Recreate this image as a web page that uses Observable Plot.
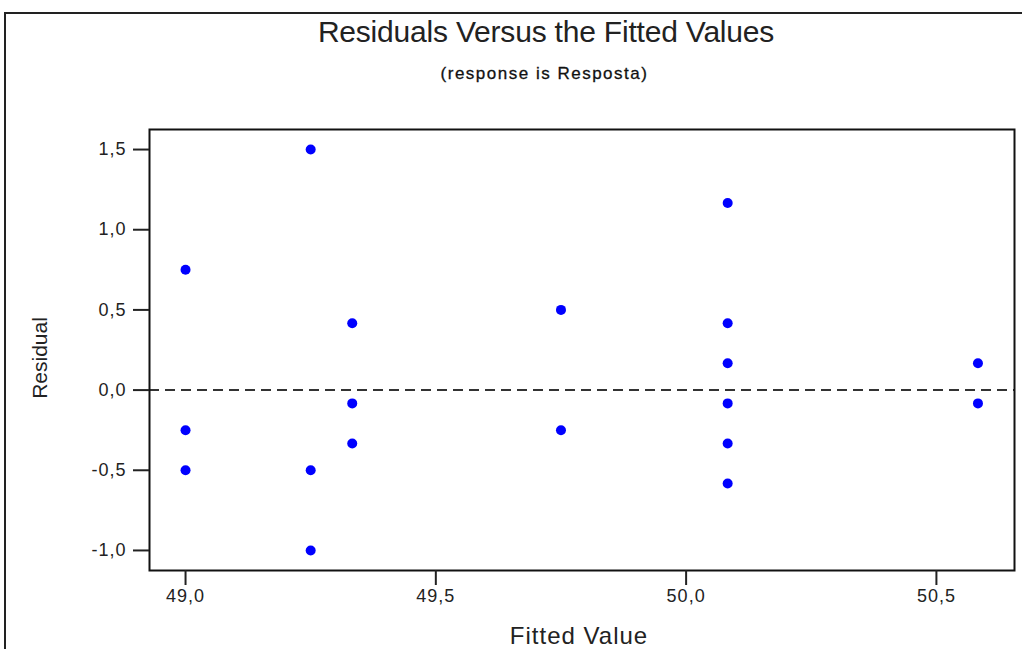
<!DOCTYPE html>
<html><head><meta charset="utf-8">
<script src="https://cdn.jsdelivr.net/npm/d3@7"></script>
<script src="https://cdn.jsdelivr.net/npm/@observablehq/plot@0.6"></script>
<style>
body{margin:0;background:#fff;overflow:hidden;font-family:"Liberation Sans",Arial,sans-serif;}
#wrap{position:relative;width:1022px;height:649px;overflow:hidden;}
#border{position:absolute;left:4px;top:12px;width:1100px;height:700px;border:2px solid #222;box-sizing:border-box;pointer-events:none;}
#head{position:relative;height:100px;}
#title{position:absolute;top:14px;left:0;width:1092px;text-align:center;font-size:30px;line-height:36px;color:#222;letter-spacing:-0.2px;}
#subtitle{position:absolute;top:63px;left:0;width:1089px;text-align:center;font-size:17px;line-height:22px;color:#111;letter-spacing:1.5px;-webkit-text-stroke:0.3px #111;}
#chart svg{display:block;}
#chart svg g[aria-label="x-axis tick label"] text,
#chart svg g[aria-label="y-axis tick label"] text{font-size:18px;letter-spacing:1px;}
</style>
</head><body>
<div id="wrap">
  <div id="border"></div>
  <div id="head">
    <div id="title">Residuals Versus the Fitted Values</div>
    <div id="subtitle">(response is Resposta)</div>
  </div>
  <div id="chart"></div>
</div>
<script>
// Data
const fitted = [49.0, 49.0, 49.0,
                49.25, 49.25, 49.25,
                49.333, 49.333, 49.333,
                49.75, 49.75,
                50.083, 50.083, 50.083, 50.083, 50.083, 50.083,
                50.583, 50.583];
const residual = [0.75, -0.25, -0.5,
                  1.5, -0.5, -1.0,
                  0.417, -0.083, -0.333,
                  0.5, -0.25,
                  1.167, 0.417, 0.167, -0.083, -0.333, -0.583,
                  0.167, -0.083];
const xTicks = [49.0, 49.5, 50.0, 50.5];
const yTicks = [-1.0, -0.5, 0.0, 0.5, 1.0, 1.5];
const xLabel = "Fitted Value";
const yLabel = "Residual";

const data = fitted.map((f, i) => ({fitted: f, residual: residual[i]}));
const fmt = d => d.toFixed(1).replace(".", ",");

const chart = Plot.plot({
  width: 1022,
  height: 549,
  marginLeft: 149,
  marginRight: 8,
  marginTop: 29,
  marginBottom: 79,
  style: {fontFamily: '"Liberation Sans", Arial, sans-serif', fontSize: "18px", color: "#222", background: "#fff"},
  x: {domain: [48.928, 50.656], label: null},
  y: {domain: [-1.125, 1.625], label: null},
  marks: [
    Plot.ruleY([0], {stroke: "#333", strokeWidth: 2, strokeDasharray: "10,6"}),
    Plot.dot(data, {x: "fitted", y: "residual", r: 5, fill: "#0000ff", stroke: "none"}),
    Plot.frame({stroke: "#111", strokeWidth: 2}),
    Plot.axisX(xTicks, {tickSize: 15, tickPadding: 4, tickFormat: fmt, stroke: "#222", strokeWidth: 2, fill: "#222", label: null}),
    Plot.axisY(yTicks, {tickSize: 16, tickPadding: 7, tickFormat: fmt, stroke: "#222", strokeWidth: 2, fill: "#222", label: null}),
    Plot.text([xLabel], {frameAnchor: "bottom", lineAnchor: "middle", textAnchor: "middle", dx: -3, dy: 66, fontSize: 24, fill: "#222", text: d => d, style: "letter-spacing:1px"}),
    Plot.text([yLabel], {frameAnchor: "left", lineAnchor: "middle", textAnchor: "middle", dx: -109, dy: 8, rotate: -90, fontSize: 21, fill: "#222", text: d => d})
  ]
});
chart.querySelectorAll("text").forEach(t => {
  if (t.textContent === xLabel) t.style.letterSpacing = "1px";
});
document.getElementById("chart").appendChild(chart);
</script>
</body></html>
